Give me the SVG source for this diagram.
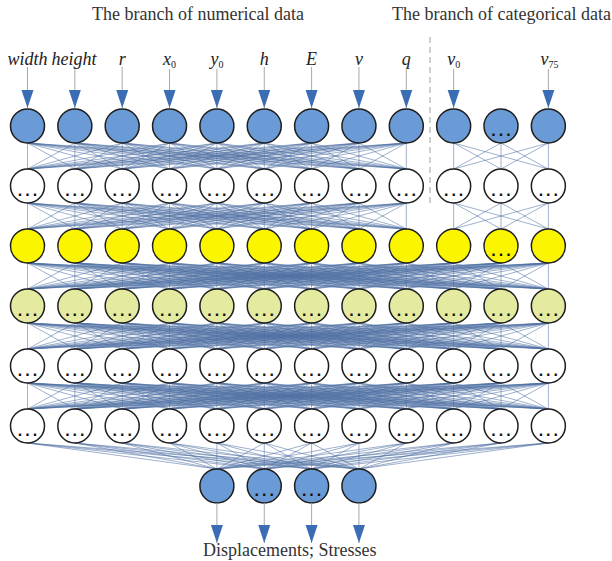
<svg xmlns="http://www.w3.org/2000/svg" xmlns:xlink="http://www.w3.org/1999/xlink" width="612" height="561" viewBox="0 0 612 561">
  <style>
    .n circle { stroke: #1e1e1e; stroke-width: 1.5; }
    .b circle { fill: #6b9bd6; }
    .y circle { fill: #fbf500; }
    .ly circle { fill: #e4eba0; }
    .w circle { fill: #ffffff; }
    .dots { font-family: "Liberation Sans", Arial, sans-serif; font-weight: bold; font-size: 16px; letter-spacing: 3px; text-anchor: middle; fill: #111; }
    .lbl { font-family: "Liberation Serif", "Times New Roman", serif; font-style: italic; font-size: 18px; text-anchor: middle; fill: #222; }
    .sub { font-style: normal; font-size: 10px; }
    .title { font-family: "Liberation Serif", "Times New Roman", serif; font-size: 18px; fill: #333; }
    .mesh { fill: none; stroke: #4f6fa4; stroke-width: 0.55; }
    .io { stroke: #a8a8a8; stroke-width: 1; }
  </style>
  <defs>
    <marker id="tri" markerUnits="userSpaceOnUse" markerWidth="12" markerHeight="18" refX="6" refY="18" viewBox="0 0 12 18" overflow="visible">
      <path d="M0 0L12 0L6 18z" fill="#3b6db5"/>
    </marker>
    <!-- complete bipartite meshes in unit space: sources on y=0, targets on y=1 -->
    <path id="k12" class="mesh" vector-effect="non-scaling-stroke" d="M0 0L0 1M0 0L1 1M0 0L2 1M0 0L3 1M0 0L4 1M0 0L5 1M0 0L6 1M0 0L7 1M0 0L8 1M0 0L9 1M0 0L10 1M0 0L11 1M1 0L0 1M1 0L1 1M1 0L2 1M1 0L3 1M1 0L4 1M1 0L5 1M1 0L6 1M1 0L7 1M1 0L8 1M1 0L9 1M1 0L10 1M1 0L11 1M2 0L0 1M2 0L1 1M2 0L2 1M2 0L3 1M2 0L4 1M2 0L5 1M2 0L6 1M2 0L7 1M2 0L8 1M2 0L9 1M2 0L10 1M2 0L11 1M3 0L0 1M3 0L1 1M3 0L2 1M3 0L3 1M3 0L4 1M3 0L5 1M3 0L6 1M3 0L7 1M3 0L8 1M3 0L9 1M3 0L10 1M3 0L11 1M4 0L0 1M4 0L1 1M4 0L2 1M4 0L3 1M4 0L4 1M4 0L5 1M4 0L6 1M4 0L7 1M4 0L8 1M4 0L9 1M4 0L10 1M4 0L11 1M5 0L0 1M5 0L1 1M5 0L2 1M5 0L3 1M5 0L4 1M5 0L5 1M5 0L6 1M5 0L7 1M5 0L8 1M5 0L9 1M5 0L10 1M5 0L11 1M6 0L0 1M6 0L1 1M6 0L2 1M6 0L3 1M6 0L4 1M6 0L5 1M6 0L6 1M6 0L7 1M6 0L8 1M6 0L9 1M6 0L10 1M6 0L11 1M7 0L0 1M7 0L1 1M7 0L2 1M7 0L3 1M7 0L4 1M7 0L5 1M7 0L6 1M7 0L7 1M7 0L8 1M7 0L9 1M7 0L10 1M7 0L11 1M8 0L0 1M8 0L1 1M8 0L2 1M8 0L3 1M8 0L4 1M8 0L5 1M8 0L6 1M8 0L7 1M8 0L8 1M8 0L9 1M8 0L10 1M8 0L11 1M9 0L0 1M9 0L1 1M9 0L2 1M9 0L3 1M9 0L4 1M9 0L5 1M9 0L6 1M9 0L7 1M9 0L8 1M9 0L9 1M9 0L10 1M9 0L11 1M10 0L0 1M10 0L1 1M10 0L2 1M10 0L3 1M10 0L4 1M10 0L5 1M10 0L6 1M10 0L7 1M10 0L8 1M10 0L9 1M10 0L10 1M10 0L11 1M11 0L0 1M11 0L1 1M11 0L2 1M11 0L3 1M11 0L4 1M11 0L5 1M11 0L6 1M11 0L7 1M11 0L8 1M11 0L9 1M11 0L10 1M11 0L11 1"/>
    <path id="k9" class="mesh" vector-effect="non-scaling-stroke" d="M0 0L0 1M0 0L1 1M0 0L2 1M0 0L3 1M0 0L4 1M0 0L5 1M0 0L6 1M0 0L7 1M0 0L8 1M1 0L0 1M1 0L1 1M1 0L2 1M1 0L3 1M1 0L4 1M1 0L5 1M1 0L6 1M1 0L7 1M1 0L8 1M2 0L0 1M2 0L1 1M2 0L2 1M2 0L3 1M2 0L4 1M2 0L5 1M2 0L6 1M2 0L7 1M2 0L8 1M3 0L0 1M3 0L1 1M3 0L2 1M3 0L3 1M3 0L4 1M3 0L5 1M3 0L6 1M3 0L7 1M3 0L8 1M4 0L0 1M4 0L1 1M4 0L2 1M4 0L3 1M4 0L4 1M4 0L5 1M4 0L6 1M4 0L7 1M4 0L8 1M5 0L0 1M5 0L1 1M5 0L2 1M5 0L3 1M5 0L4 1M5 0L5 1M5 0L6 1M5 0L7 1M5 0L8 1M6 0L0 1M6 0L1 1M6 0L2 1M6 0L3 1M6 0L4 1M6 0L5 1M6 0L6 1M6 0L7 1M6 0L8 1M7 0L0 1M7 0L1 1M7 0L2 1M7 0L3 1M7 0L4 1M7 0L5 1M7 0L6 1M7 0L7 1M7 0L8 1M8 0L0 1M8 0L1 1M8 0L2 1M8 0L3 1M8 0L4 1M8 0L5 1M8 0L6 1M8 0L7 1M8 0L8 1"/>
    <path id="k3" class="mesh" vector-effect="non-scaling-stroke" d="M0 0L0 1M0 0L1 1M0 0L2 1M1 0L0 1M1 0L1 1M1 0L2 1M2 0L0 1M2 0L1 1M2 0L2 1"/>
    <path id="kout" class="mesh" vector-effect="non-scaling-stroke" d="M0 0L4 1M0 0L5 1M0 0L6 1M0 0L7 1M1 0L4 1M1 0L5 1M1 0L6 1M1 0L7 1M2 0L4 1M2 0L5 1M2 0L6 1M2 0L7 1M3 0L4 1M3 0L5 1M3 0L6 1M3 0L7 1M4 0L4 1M4 0L5 1M4 0L6 1M4 0L7 1M5 0L4 1M5 0L5 1M5 0L6 1M5 0L7 1M6 0L4 1M6 0L5 1M6 0L6 1M6 0L7 1M7 0L4 1M7 0L5 1M7 0L6 1M7 0L7 1M8 0L4 1M8 0L5 1M8 0L6 1M8 0L7 1M9 0L4 1M9 0L5 1M9 0L6 1M9 0L7 1M10 0L4 1M10 0L5 1M10 0L6 1M10 0L7 1M11 0L4 1M11 0L5 1M11 0L6 1M11 0L7 1"/>
  </defs>

  <rect width="612" height="561" fill="#ffffff"/>

  <!-- branch titles and separator -->
  <text class="title" x="92" y="20">The branch of numerical data</text>
  <text class="title" x="392" y="20">The branch of categorical data</text>
  <line x1="430" y1="37" x2="430" y2="204" stroke="#a0a0a0" stroke-width="1" stroke-dasharray="6 4"/>

  <!-- connectors: columns at x = 27.5 + 47.35*i, bands 26px tall -->
  <g id="connectors">
    <use xlink:href="#k9" transform="translate(27.5 143) scale(47.35 26)"/>
    <use xlink:href="#k3" transform="translate(453.65 143) scale(47.35 26)"/>
    <use xlink:href="#k9" transform="translate(27.5 203) scale(47.35 26)"/>
    <use xlink:href="#k3" transform="translate(453.65 203) scale(47.35 26)"/>
    <use xlink:href="#k12" transform="translate(27.5 263) scale(47.35 26)"/>
    <use xlink:href="#k12" transform="translate(27.5 323) scale(47.35 26)"/>
    <use xlink:href="#k12" transform="translate(27.5 383) scale(47.35 26)"/>
    <use xlink:href="#kout" transform="translate(27.5 443) scale(47.35 26)"/>
  </g>

  <!-- input arrows -->
  <g id="inputs">
    <line class="io" x1="27.5" y1="67" x2="27.5" y2="108" marker-end="url(#tri)"/>
    <line class="io" x1="74.85" y1="67" x2="74.85" y2="108" marker-end="url(#tri)"/>
    <line class="io" x1="122.2" y1="67" x2="122.2" y2="108" marker-end="url(#tri)"/>
    <line class="io" x1="169.55" y1="69" x2="169.55" y2="108" marker-end="url(#tri)"/>
    <line class="io" x1="216.9" y1="69" x2="216.9" y2="108" marker-end="url(#tri)"/>
    <line class="io" x1="264.25" y1="67" x2="264.25" y2="108" marker-end="url(#tri)"/>
    <line class="io" x1="311.6" y1="67" x2="311.6" y2="108" marker-end="url(#tri)"/>
    <line class="io" x1="358.95" y1="67" x2="358.95" y2="108" marker-end="url(#tri)"/>
    <line class="io" x1="406.3" y1="67" x2="406.3" y2="108" marker-end="url(#tri)"/>
    <line class="io" x1="453.65" y1="69" x2="453.65" y2="108" marker-end="url(#tri)"/>
    <line class="io" x1="548.35" y1="69" x2="548.35" y2="108" marker-end="url(#tri)"/>
  </g>

  <!-- input labels -->
  <g id="labels">
    <text class="lbl" x="27.5" y="65">width</text>
    <text class="lbl" x="74" y="65">height</text>
    <text class="lbl" x="122.2" y="65">r</text>
    <text class="lbl" x="169.55" y="65">x<tspan class="sub" dy="3">0</tspan></text>
    <text class="lbl" x="216.9" y="65">y<tspan class="sub" dy="3">0</tspan></text>
    <text class="lbl" x="264.25" y="65">h</text>
    <text class="lbl" x="311.6" y="65">E</text>
    <text class="lbl" x="358.95" y="65">v</text>
    <text class="lbl" x="406.3" y="65">q</text>
    <text class="lbl" x="453.65" y="65">v<tspan class="sub" dy="3">0</tspan></text>
    <text class="lbl" x="549.5" y="65">v<tspan class="sub" dy="3">75</tspan></text>
  </g>

  <!-- layer 1: inputs -->
  <g id="n1-0" class="n b"><circle cx="27.5" cy="126" r="17"/></g>
  <g id="n1-1" class="n b"><circle cx="74.85" cy="126" r="17"/></g>
  <g id="n1-2" class="n b"><circle cx="122.2" cy="126" r="17"/></g>
  <g id="n1-3" class="n b"><circle cx="169.55" cy="126" r="17"/></g>
  <g id="n1-4" class="n b"><circle cx="216.9" cy="126" r="17"/></g>
  <g id="n1-5" class="n b"><circle cx="264.25" cy="126" r="17"/></g>
  <g id="n1-6" class="n b"><circle cx="311.6" cy="126" r="17"/></g>
  <g id="n1-7" class="n b"><circle cx="358.95" cy="126" r="17"/></g>
  <g id="n1-8" class="n b"><circle cx="406.3" cy="126" r="17"/></g>
  <g id="n1-9" class="n b"><circle cx="453.65" cy="126" r="17"/></g>
  <g id="n1-10" class="n b"><circle cx="501" cy="126" r="17"/><text class="dots" x="502.5" y="136">...</text></g>
  <g id="n1-11" class="n b"><circle cx="548.35" cy="126" r="17"/></g>

  <!-- layer 2 -->
  <g id="n2-0" class="n w"><circle cx="27.5" cy="186" r="17"/><text class="dots" x="29" y="196">...</text></g>
  <g id="n2-1" class="n w"><circle cx="74.85" cy="186" r="17"/><text class="dots" x="76.35" y="196">...</text></g>
  <g id="n2-2" class="n w"><circle cx="122.2" cy="186" r="17"/><text class="dots" x="123.7" y="196">...</text></g>
  <g id="n2-3" class="n w"><circle cx="169.55" cy="186" r="17"/><text class="dots" x="171.05" y="196">...</text></g>
  <g id="n2-4" class="n w"><circle cx="216.9" cy="186" r="17"/><text class="dots" x="218.4" y="196">...</text></g>
  <g id="n2-5" class="n w"><circle cx="264.25" cy="186" r="17"/><text class="dots" x="265.75" y="196">...</text></g>
  <g id="n2-6" class="n w"><circle cx="311.6" cy="186" r="17"/><text class="dots" x="313.1" y="196">...</text></g>
  <g id="n2-7" class="n w"><circle cx="358.95" cy="186" r="17"/><text class="dots" x="360.45" y="196">...</text></g>
  <g id="n2-8" class="n w"><circle cx="406.3" cy="186" r="17"/><text class="dots" x="407.8" y="196">...</text></g>
  <g id="n2-9" class="n w"><circle cx="453.65" cy="186" r="17"/><text class="dots" x="455.15" y="196">...</text></g>
  <g id="n2-10" class="n w"><circle cx="501" cy="186" r="17"/><text class="dots" x="502.5" y="196">...</text></g>
  <g id="n2-11" class="n w"><circle cx="548.35" cy="186" r="17"/><text class="dots" x="549.85" y="196">...</text></g>

  <!-- layer 3 -->
  <g id="n3-0" class="n y"><circle cx="27.5" cy="246" r="17"/></g>
  <g id="n3-1" class="n y"><circle cx="74.85" cy="246" r="17"/></g>
  <g id="n3-2" class="n y"><circle cx="122.2" cy="246" r="17"/></g>
  <g id="n3-3" class="n y"><circle cx="169.55" cy="246" r="17"/></g>
  <g id="n3-4" class="n y"><circle cx="216.9" cy="246" r="17"/></g>
  <g id="n3-5" class="n y"><circle cx="264.25" cy="246" r="17"/></g>
  <g id="n3-6" class="n y"><circle cx="311.6" cy="246" r="17"/></g>
  <g id="n3-7" class="n y"><circle cx="358.95" cy="246" r="17"/></g>
  <g id="n3-8" class="n y"><circle cx="406.3" cy="246" r="17"/></g>
  <g id="n3-9" class="n y"><circle cx="453.65" cy="246" r="17"/></g>
  <g id="n3-10" class="n y"><circle cx="501" cy="246" r="17"/><text class="dots" x="502.5" y="256">...</text></g>
  <g id="n3-11" class="n y"><circle cx="548.35" cy="246" r="17"/></g>

  <!-- layer 4 -->
  <g id="n4-0" class="n ly"><circle cx="27.5" cy="306" r="17"/><text class="dots" x="29" y="316">...</text></g>
  <g id="n4-1" class="n ly"><circle cx="74.85" cy="306" r="17"/><text class="dots" x="76.35" y="316">...</text></g>
  <g id="n4-2" class="n ly"><circle cx="122.2" cy="306" r="17"/><text class="dots" x="123.7" y="316">...</text></g>
  <g id="n4-3" class="n ly"><circle cx="169.55" cy="306" r="17"/><text class="dots" x="171.05" y="316">...</text></g>
  <g id="n4-4" class="n ly"><circle cx="216.9" cy="306" r="17"/><text class="dots" x="218.4" y="316">...</text></g>
  <g id="n4-5" class="n ly"><circle cx="264.25" cy="306" r="17"/><text class="dots" x="265.75" y="316">...</text></g>
  <g id="n4-6" class="n ly"><circle cx="311.6" cy="306" r="17"/><text class="dots" x="313.1" y="316">...</text></g>
  <g id="n4-7" class="n ly"><circle cx="358.95" cy="306" r="17"/><text class="dots" x="360.45" y="316">...</text></g>
  <g id="n4-8" class="n ly"><circle cx="406.3" cy="306" r="17"/><text class="dots" x="407.8" y="316">...</text></g>
  <g id="n4-9" class="n ly"><circle cx="453.65" cy="306" r="17"/><text class="dots" x="455.15" y="316">...</text></g>
  <g id="n4-10" class="n ly"><circle cx="501" cy="306" r="17"/><text class="dots" x="502.5" y="316">...</text></g>
  <g id="n4-11" class="n ly"><circle cx="548.35" cy="306" r="17"/><text class="dots" x="549.85" y="316">...</text></g>

  <!-- layer 5 -->
  <g id="n5-0" class="n w"><circle cx="27.5" cy="366" r="17"/><text class="dots" x="29" y="376">...</text></g>
  <g id="n5-1" class="n w"><circle cx="74.85" cy="366" r="17"/><text class="dots" x="76.35" y="376">...</text></g>
  <g id="n5-2" class="n w"><circle cx="122.2" cy="366" r="17"/><text class="dots" x="123.7" y="376">...</text></g>
  <g id="n5-3" class="n w"><circle cx="169.55" cy="366" r="17"/><text class="dots" x="171.05" y="376">...</text></g>
  <g id="n5-4" class="n w"><circle cx="216.9" cy="366" r="17"/><text class="dots" x="218.4" y="376">...</text></g>
  <g id="n5-5" class="n w"><circle cx="264.25" cy="366" r="17"/><text class="dots" x="265.75" y="376">...</text></g>
  <g id="n5-6" class="n w"><circle cx="311.6" cy="366" r="17"/><text class="dots" x="313.1" y="376">...</text></g>
  <g id="n5-7" class="n w"><circle cx="358.95" cy="366" r="17"/><text class="dots" x="360.45" y="376">...</text></g>
  <g id="n5-8" class="n w"><circle cx="406.3" cy="366" r="17"/><text class="dots" x="407.8" y="376">...</text></g>
  <g id="n5-9" class="n w"><circle cx="453.65" cy="366" r="17"/><text class="dots" x="455.15" y="376">...</text></g>
  <g id="n5-10" class="n w"><circle cx="501" cy="366" r="17"/><text class="dots" x="502.5" y="376">...</text></g>
  <g id="n5-11" class="n w"><circle cx="548.35" cy="366" r="17"/><text class="dots" x="549.85" y="376">...</text></g>

  <!-- layer 6 -->
  <g id="n6-0" class="n w"><circle cx="27.5" cy="426" r="17"/><text class="dots" x="29" y="436">...</text></g>
  <g id="n6-1" class="n w"><circle cx="74.85" cy="426" r="17"/><text class="dots" x="76.35" y="436">...</text></g>
  <g id="n6-2" class="n w"><circle cx="122.2" cy="426" r="17"/><text class="dots" x="123.7" y="436">...</text></g>
  <g id="n6-3" class="n w"><circle cx="169.55" cy="426" r="17"/><text class="dots" x="171.05" y="436">...</text></g>
  <g id="n6-4" class="n w"><circle cx="216.9" cy="426" r="17"/><text class="dots" x="218.4" y="436">...</text></g>
  <g id="n6-5" class="n w"><circle cx="264.25" cy="426" r="17"/><text class="dots" x="265.75" y="436">...</text></g>
  <g id="n6-6" class="n w"><circle cx="311.6" cy="426" r="17"/><text class="dots" x="313.1" y="436">...</text></g>
  <g id="n6-7" class="n w"><circle cx="358.95" cy="426" r="17"/><text class="dots" x="360.45" y="436">...</text></g>
  <g id="n6-8" class="n w"><circle cx="406.3" cy="426" r="17"/><text class="dots" x="407.8" y="436">...</text></g>
  <g id="n6-9" class="n w"><circle cx="453.65" cy="426" r="17"/><text class="dots" x="455.15" y="436">...</text></g>
  <g id="n6-10" class="n w"><circle cx="501" cy="426" r="17"/><text class="dots" x="502.5" y="436">...</text></g>
  <g id="n6-11" class="n w"><circle cx="548.35" cy="426" r="17"/><text class="dots" x="549.85" y="436">...</text></g>

  <!-- output layer -->
  <g id="out-0" class="n b"><circle cx="216.9" cy="486" r="17"/></g>
  <g id="out-1" class="n b"><circle cx="264.25" cy="486" r="17"/><text class="dots" x="265.75" y="496">...</text></g>
  <g id="out-2" class="n b"><circle cx="311.6" cy="486" r="17"/><text class="dots" x="313.1" y="496">...</text></g>
  <g id="out-3" class="n b"><circle cx="358.95" cy="486" r="17"/></g>

  <!-- output arrows -->
  <g id="outputs">
    <line class="io" x1="216.9" y1="503" x2="216.9" y2="543" marker-end="url(#tri)"/>
    <line class="io" x1="264.25" y1="503" x2="264.25" y2="543" marker-end="url(#tri)"/>
    <line class="io" x1="311.6" y1="503" x2="311.6" y2="543" marker-end="url(#tri)"/>
    <line class="io" x1="358.95" y1="503" x2="358.95" y2="543" marker-end="url(#tri)"/>
  </g>
  <text class="title" x="203" y="556">Displacements; Stresses</text>
</svg>
